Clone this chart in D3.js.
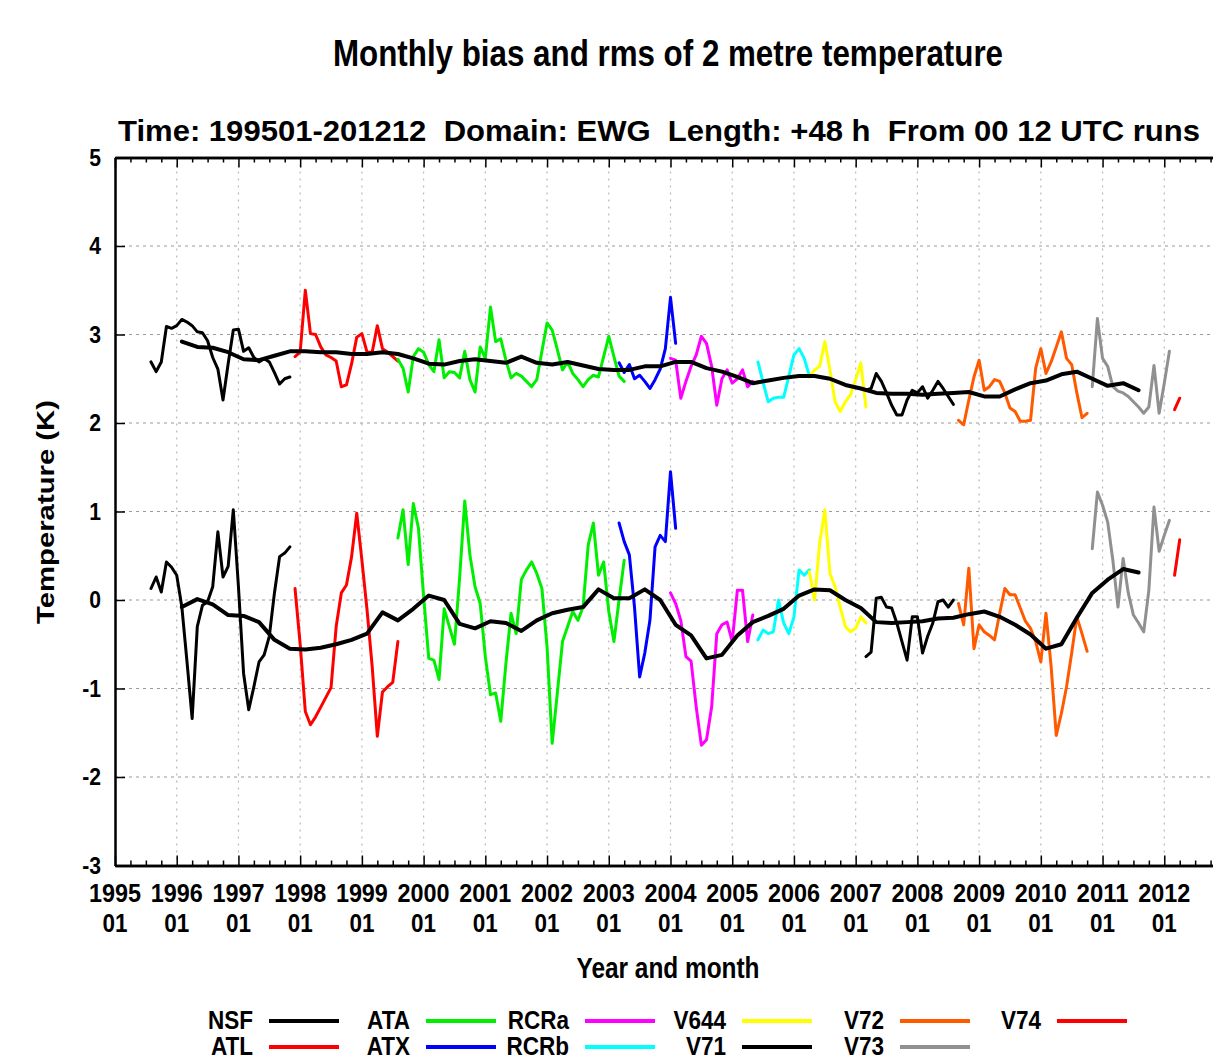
<!DOCTYPE html>
<html>
<head>
<meta charset="utf-8">
<script src="https://cdn.jsdelivr.net/npm/d3@7"></script>
<style>
  body { margin: 0; background: #fff; }
  svg text { font-family: 'Liberation Sans Narrow', 'Liberation Sans', Arial, sans-serif; font-weight: bold; fill: #000; white-space: pre; }
</style>
</head>
<body>
<div id="chart"></div>
<script>
// Experiments (legend order) and colours
const expNames  = ['NSF', 'ATL', 'ATA', 'ATX', 'RCRa', 'RCRb', 'V644', 'V71', 'V72', 'V73', 'V74'];
const expColors = ['#000000', '#ff0000', '#00ee00', '#0000ff', '#ff00ff', '#00ffff', '#ffff00', '#000000', '#ff5a00', '#909090', '#ff0000'];
const expStart  = ['199508', '199712', '199908', '200303', '200401', '200506', '200604', '200703', '200809', '201011', '201203'];

// Monthly rms (upper curves)
const nsfRms  = [2.69, 2.58, 2.69, 3.09, 3.07, 3.10, 3.17, 3.14, 3.10, 3.03, 3.02, 2.93, 2.74, 2.61, 2.26, 2.67, 3.05, 3.06, 2.81, 2.85, 2.74, 2.69, 2.73, 2.69, 2.57, 2.44, 2.50, 2.52];
const atlRms  = [2.75, 2.80, 3.50, 3.01, 3.00, 2.86, 2.77, 2.74, 2.70, 2.41, 2.43, 2.67, 2.97, 3.01, 2.80, 2.80, 3.10, 2.84, 2.80, 2.75, 2.70];
const ataRms  = [2.72, 2.62, 2.35, 2.75, 2.84, 2.80, 2.66, 2.58, 2.94, 2.51, 2.58, 2.57, 2.51, 2.81, 2.49, 2.35, 2.86, 2.73, 3.31, 2.92, 2.95, 2.71, 2.51, 2.56, 2.53, 2.47, 2.41, 2.49, 2.81, 3.13, 3.05, 2.83, 2.60, 2.69, 2.56, 2.49, 2.41, 2.49, 2.54, 2.52, 2.75, 2.98, 2.75, 2.53, 2.47];
const atxRms  = [2.68, 2.57, 2.66, 2.50, 2.54, 2.47, 2.39, 2.49, 2.61, 2.84, 3.42, 2.90];
const rcraRms = [2.73, 2.71, 2.28, 2.47, 2.64, 2.77, 2.98, 2.90, 2.64, 2.20, 2.50, 2.60, 2.45, 2.50, 2.60, 2.41, 2.47];
const rcrbRms = [2.69, 2.46, 2.24, 2.28, 2.29, 2.29, 2.53, 2.77, 2.84, 2.73, 2.53];
const v644Rms = [2.52, 2.60, 2.64, 2.92, 2.60, 2.24, 2.13, 2.24, 2.32, 2.49, 2.68, 2.18];
const v71Rms  = [2.37, 2.39, 2.56, 2.47, 2.34, 2.20, 2.09, 2.09, 2.26, 2.37, 2.34, 2.41, 2.28, 2.37, 2.47, 2.39, 2.30, 2.21];
const v72Rms  = [2.03, 1.98, 2.26, 2.52, 2.71, 2.37, 2.41, 2.49, 2.47, 2.34, 2.17, 2.13, 2.02, 2.02, 2.03, 2.62, 2.84, 2.56, 2.69, 2.86, 3.03, 2.73, 2.66, 2.34, 2.06, 2.11];
const v73Rms  = [2.41, 3.18, 2.73, 2.64, 2.41, 2.36, 2.34, 2.30, 2.24, 2.18, 2.11, 2.18, 2.65, 2.11, 2.45, 2.81];
const v74Rms  = [2.15, 2.28];

// Monthly bias (lower curves)
const nsfBias  = [0.13, 0.26, 0.09, 0.43, 0.37, 0.28, -0.08, -0.70, -1.34, -0.30, -0.06, -0.02, 0.15, 0.77, 0.26, 0.38, 1.02, 0.15, -0.83, -1.24, -0.98, -0.70, -0.62, -0.41, 0.08, 0.49, 0.53, 0.60];
const atlBias  = [0.13, -0.50, -1.26, -1.41, -1.32, -1.21, -1.10, -0.99, -0.30, 0.08, 0.17, 0.49, 0.98, 0.45, -0.11, -0.75, -1.54, -1.04, -0.98, -0.93, -0.47];
const ataBias  = [0.70, 1.02, 0.40, 1.09, 0.81, 0.04, -0.66, -0.68, -0.90, -0.10, -0.30, -0.50, 0.25, 1.12, 0.51, 0.15, -0.04, -0.64, -1.07, -1.05, -1.37, -0.72, -0.15, -0.38, 0.23, 0.34, 0.43, 0.30, 0.13, -0.53, -1.62, -1.05, -0.47, -0.30, -0.13, -0.23, -0.08, 0.62, 0.87, 0.28, 0.43, -0.13, -0.47, 0.00, 0.45];
const atxBias  = [0.87, 0.66, 0.51, -0.08, -0.87, -0.60, -0.23, 0.60, 0.73, 0.66, 1.45, 0.81];
const rcraBias = [0.08, -0.04, -0.23, -0.64, -0.69, -1.21, -1.64, -1.58, -1.21, -0.38, -0.28, -0.25, -0.47, 0.11, 0.11, -0.47, -0.17];
const rcrbBias = [-0.45, -0.34, -0.38, -0.36, 0.00, -0.26, -0.38, -0.19, 0.34, 0.28, 0.34];
const v644Bias = [0.32, 0.00, 0.64, 1.02, 0.30, 0.15, -0.08, -0.30, -0.36, -0.32, -0.19, -0.26];
const v71Bias  = [-0.64, -0.59, 0.02, 0.03, -0.08, -0.09, -0.26, -0.47, -0.68, -0.19, -0.19, -0.60, -0.41, -0.26, -0.02, 0.00, -0.08, 0.00];
const v72Bias  = [-0.04, -0.28, 0.36, -0.55, -0.28, -0.36, -0.40, -0.45, -0.15, 0.13, 0.06, 0.06, -0.09, -0.24, -0.32, -0.47, -0.70, -0.15, -0.75, -1.53, -1.28, -0.98, -0.60, -0.19, -0.38, -0.58];
const v73Bias  = [0.58, 1.22, 1.07, 0.88, 0.45, -0.08, 0.47, 0.08, -0.17, -0.26, -0.36, 0.11, 1.05, 0.55, 0.73, 0.90];
const v74Bias  = [0.28, 0.68];

// 12-month running means, read every 3rd month from 1996 02
const meanStart = '199602';
const meanStep = 3;
const rmsMean  = [2.92, 2.86, 2.85, 2.80, 2.72, 2.71, 2.76, 2.81, 2.81, 2.80, 2.80, 2.78, 2.78, 2.80, 2.78, 2.73, 2.67, 2.66, 2.70, 2.72, 2.70, 2.68, 2.75, 2.68, 2.66, 2.69, 2.65, 2.61, 2.60, 2.60, 2.64, 2.64, 2.69, 2.69, 2.62, 2.58, 2.52, 2.45, 2.48, 2.51, 2.53, 2.53, 2.50, 2.43, 2.39, 2.34, 2.33, 2.33, 2.32, 2.33, 2.34, 2.35, 2.30, 2.30, 2.38, 2.45, 2.48, 2.55, 2.58, 2.50, 2.42, 2.45, 2.37];
const biasMean = [-0.08, 0.01, -0.05, -0.17, -0.18, -0.25, -0.45, -0.55, -0.56, -0.54, -0.50, -0.45, -0.38, -0.14, -0.23, -0.10, 0.05, 0.00, -0.27, -0.32, -0.24, -0.26, -0.35, -0.23, -0.15, -0.11, -0.08, 0.12, 0.02, 0.02, 0.12, 0.00, -0.28, -0.40, -0.66, -0.62, -0.40, -0.25, -0.18, -0.10, 0.05, 0.12, 0.11, 0.00, -0.09, -0.25, -0.26, -0.25, -0.24, -0.21, -0.20, -0.16, -0.13, -0.19, -0.28, -0.39, -0.55, -0.50, -0.20, 0.08, 0.23, 0.35, 0.31];

// Axis ticks
const years = d3.range(1995, 2013);
const yTicks = [-3, -2, -1, 0, 1, 2, 3, 4, 5];

const rmsList  = [nsfRms, atlRms, ataRms, atxRms, rcraRms, rcrbRms, v644Rms, v71Rms, v72Rms, v73Rms, v74Rms];
const biasList = [nsfBias, atlBias, ataBias, atxBias, rcraBias, rcrbBias, v644Bias, v71Bias, v72Bias, v73Bias, v74Bias];

// month index counted from 1995 01
const monthIndex = s => (+s.slice(0, 4) - 1995) * 12 + (+s.slice(4) - 1);

const experiments = expNames.map((name, i) => ({
  name: name,
  color: expColors[i],
  start: monthIndex(expStart[i]),
  rms: rmsList[i],
  bias: biasList[i]
}));

const W = 1213, H = 1060;
const plot = { left: 115, right: 1226, top: 157.5, bottom: 865.5 };

const x = d3.scaleLinear().domain([0, 216]).range([plot.left, plot.right]);
const y = d3.scaleLinear().domain([-3, 5]).range([plot.bottom, plot.top]);

const svg = d3.select('#chart').append('svg')
  .attr('width', W)
  .attr('height', H);

svg.append('rect').attr('width', W).attr('height', H).attr('fill', '#fff');

// squeeze a text to a fraction of its natural width (the original uses a condensed face)
function condense(sel, factor) {
  sel.each(function () {
    const len = this.getComputedTextLength();
    d3.select(this)
      .attr('textLength', len * factor)
      .attr('lengthAdjust', 'spacingAndGlyphs');
  });
}

// Titles
svg.append('text')
  .attr('x', 333).attr('y', 66)
  .attr('font-size', 36)
  .attr('textLength', 670).attr('lengthAdjust', 'spacingAndGlyphs')
  .text('Monthly bias and rms of 2 metre temperature');

svg.append('text')
  .attr('x', 118).attr('y', 141)
  .attr('font-size', 29)
  .attr('textLength', 1082).attr('lengthAdjust', 'spacingAndGlyphs')
  .text('Time: 199501-201212  Domain: EWG  Length: +48 h  From 00 12 UTC runs');

// Grid
const grid = svg.append('g');
grid.selectAll('.vgrid')
  .data(years.slice(1).map(yr => (yr - 1995) * 12))
  .enter().append('line')
  .attr('x1', d => x(d)).attr('x2', d => x(d))
  .attr('y1', plot.top).attr('y2', plot.bottom)
  .attr('stroke', '#b8b8b8')
  .attr('stroke-width', 1.2)
  .attr('stroke-dasharray', '2,5');

grid.selectAll('.hgrid')
  .data(yTicks.slice(1, -1))
  .enter().append('line')
  .attr('x1', plot.left).attr('x2', plot.right)
  .attr('y1', d => y(d)).attr('y2', d => y(d))
  .attr('stroke', '#9a9a9a')
  .attr('stroke-width', 1.2)
  .attr('stroke-dasharray', '3,4');

// Series
const line = d3.line()
  .x(d => x(d[0]))
  .y(d => y(d[1]));

const lines = svg.append('g')
  .attr('fill', 'none')
  .attr('stroke-linejoin', 'round')
  .attr('stroke-linecap', 'round');

experiments.forEach(e => {
  ['rms', 'bias'].forEach(key => {
    lines.append('path')
      .datum(e[key].map((v, k) => [e.start + k, v]))
      .attr('d', line)
      .attr('stroke', e.color)
      .attr('stroke-width', 3);
  });
});

const m0 = monthIndex(meanStart);
[rmsMean, biasMean].forEach(arr => {
  lines.append('path')
    .datum(arr.map((v, k) => [m0 + k * meanStep, v]))
    .attr('d', line)
    .attr('stroke', '#000')
    .attr('stroke-width', 4);
});

// Axes
const yearMonths = d3.range(0, 217, 12);
const quarterMonths = d3.range(0, 217, 3).filter(m => m % 12 !== 0);

function styleAxis(g) {
  g.select('.domain').attr('stroke', '#000').attr('stroke-width', 2.5);
  g.selectAll('.tick line').attr('stroke', '#000').attr('stroke-width', 1.5);
}

svg.append('g')
  .attr('transform', 'translate(0,' + plot.bottom + ')')
  .call(d3.axisBottom(x).tickValues(quarterMonths).tickSize(-5).tickSizeOuter(0).tickFormat(''))
  .call(styleAxis);
svg.append('g')
  .attr('transform', 'translate(0,' + plot.bottom + ')')
  .call(d3.axisBottom(x).tickValues(yearMonths).tickSize(-10).tickSizeOuter(0).tickFormat(''))
  .call(styleAxis);
svg.append('g')
  .attr('transform', 'translate(0,' + plot.top + ')')
  .call(d3.axisTop(x).tickValues(quarterMonths).tickSize(-5).tickSizeOuter(0).tickFormat(''))
  .call(styleAxis);
svg.append('g')
  .attr('transform', 'translate(0,' + plot.top + ')')
  .call(d3.axisTop(x).tickValues(yearMonths).tickSize(-10).tickSizeOuter(0).tickFormat(''))
  .call(styleAxis);

const yAxis = svg.append('g')
  .attr('transform', 'translate(' + plot.left + ',0)')
  .call(d3.axisLeft(y).tickValues(yTicks).tickSize(-10).tickSizeOuter(0).tickPadding(14).tickFormat(d => String(d)))
  .call(styleAxis);
yAxis.selectAll('.tick text')
  .attr('font-size', 24)
  .attr('font-family', null)
  .style('font-family', "'Liberation Sans Narrow', 'Liberation Sans', Arial, sans-serif")
  .style('font-weight', 'bold')
  .call(condense, 0.88);

svg.append('g')
  .attr('transform', 'translate(' + plot.right + ',0)')
  .call(d3.axisRight(y).tickValues(yTicks).tickSize(-10).tickSizeOuter(0).tickFormat(''))
  .call(styleAxis);

// Two-line year / month labels
const xLabels = svg.append('g').attr('text-anchor', 'middle');
years.forEach(yr => {
  const px = x((yr - 1995) * 12);
  xLabels.append('text')
    .attr('x', px).attr('y', 902)
    .attr('font-size', 26)
    .attr('textLength', 52).attr('lengthAdjust', 'spacingAndGlyphs')
    .text(yr);
  xLabels.append('text')
    .attr('x', px).attr('y', 932)
    .attr('font-size', 26)
    .attr('textLength', 25).attr('lengthAdjust', 'spacingAndGlyphs')
    .text('01');
});

// Axis titles
svg.append('text')
  .attr('x', 668).attr('y', 978)
  .attr('text-anchor', 'middle')
  .attr('font-size', 30)
  .attr('textLength', 183).attr('lengthAdjust', 'spacingAndGlyphs')
  .text('Year and month');

svg.append('text')
  .attr('transform', 'translate(54,512) rotate(-90)')
  .attr('text-anchor', 'middle')
  .attr('font-size', 24)
  .style('font-family', "'Liberation Sans', Arial, sans-serif")
  .attr('textLength', 224).attr('lengthAdjust', 'spacingAndGlyphs')
  .text('Temperature (K)');

// Legend: two rows, filled column by column
const legendTextEnd = [253, 410, 569, 726, 884, 1041];
const legendRowY = [1021, 1047];
const legend = svg.append('g');
experiments.forEach((e, i) => {
  const col = Math.floor(i / 2), row = i % 2;
  const tx = legendTextEnd[col];
  const ly = legendRowY[row];
  legend.append('text')
    .attr('x', tx).attr('y', ly + 8)
    .attr('text-anchor', 'end')
    .attr('font-size', 25)
    .text(e.name)
    .call(condense, 0.9);
  legend.append('line')
    .attr('x1', tx + 16).attr('x2', tx + 86)
    .attr('y1', ly).attr('y2', ly)
    .attr('stroke', e.color)
    .attr('stroke-width', 4);
});
</script>
</body>
</html>
